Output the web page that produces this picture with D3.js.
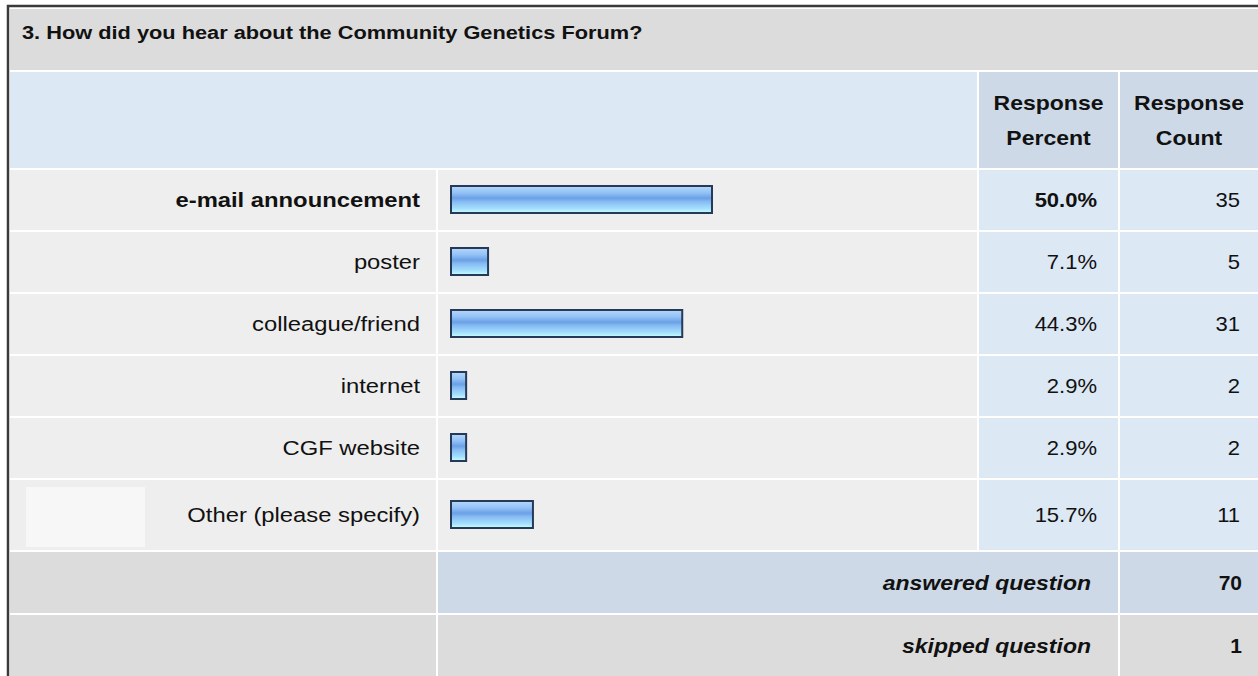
<!DOCTYPE html>
<html>
<head>
<meta charset="utf-8">
<script src="https://cdn.jsdelivr.net/npm/d3@7"></script>
<style>
  body { margin: 0; background: #ffffff; }
  svg text { font-family: "Liberation Sans", Arial, sans-serif; fill: #111; }
</style>
</head>
<body>
<script>
//survey question data
var question = "3. How did you hear about the Community Genetics Forum?";
var categories = ["e-mail announcement", "poster", "colleague/friend", "internet", "CGF website", "Other (please specify)"];
var percents = [50.0, 7.1, 44.3, 2.9, 2.9, 15.7];
var counts = [35, 5, 31, 2, 2, 11];
var headers = [["Response", "Percent"], ["Response", "Count"]];
var summaryLabels = ["answered question", "skipped question"];
var summaryValues = [70, 1];

window.onload = drawTable();

function drawTable(){
    var width = 1258,
        height = 676;

    var svg = d3.select("body")
        .append("svg")
        .attr("width", width)
        .attr("height", height);

    //column edges
    var colLabel = [10, 436],
        colBar = [438, 977],
        colPct = [979, 1118],
        colCnt = [1120, 1258];

    //row heights, the "Other" row is taller because of its comment box
    var rowH = categories.map(function(d){ return d.indexOf("Other") === 0 ? 70 : 60; });
    var rowTop = [];
    var y0 = 170;
    rowH.forEach(function(h){ rowTop.push(y0); y0 += h + 2; });

    //bar scale
    var x = d3.scaleLinear()
        .domain([0, 100])
        .range([0, 522]);

    var maxPct = d3.max(percents);

    //gradient for bars
    var defs = svg.append("defs");
    var grad = defs.append("linearGradient")
        .attr("id", "barGrad")
        .attr("x1", 0).attr("y1", 0).attr("x2", 0).attr("y2", 1);
    [["0%", "#b4d8fb"], ["25%", "#94c2f6"], ["45%", "#6aa0e6"], ["58%", "#86bbf3"], ["85%", "#a6e2fd"], ["100%", "#cbffff"]]
        .forEach(function(s){ grad.append("stop").attr("offset", s[0]).attr("stop-color", s[1]); });

    //helper for stretched text
    function label(g, str, xPos, yPos, opts){
        opts = opts || {};
        return g.append("text")
            .attr("transform", "translate(" + xPos + "," + yPos + ") scale(" + (opts.sx || 1.19) + ",1)")
            .attr("text-anchor", opts.anchor || "end")
            .style("font-size", (opts.size || 20) + "px")
            .style("font-weight", opts.bold ? "bold" : "normal")
            .style("font-style", opts.italic ? "italic" : "normal")
            .text(str);
    }

    function cell(g, x0, x1, yTop, h, fill){
        g.append("rect")
            .attr("x", x0).attr("y", yTop)
            .attr("width", x1 - x0).attr("height", h)
            .attr("fill", fill);
    }

    //outer frame
    svg.append("rect")
        .attr("x", 8).attr("y", 6)
        .attr("width", width).attr("height", height)
        .attr("fill", "#ffffff")
        .attr("stroke", "#3a3a3a")
        .attr("stroke-width", 2.5);

    //title row
    cell(svg, 10, width, 9, 61, "#dcdcdc");
    label(svg, question, 22, 39, {anchor: "start", bold: true, size: 18, sx: 1.21});

    //header row
    cell(svg, 10, colBar[1], 72, 96, "#dde8f5");
    cell(svg, colPct[0], colPct[1], 72, 96, "#cdd9e6");
    cell(svg, colCnt[0], colCnt[1], 72, 96, "#cdd9e6");
    headers.forEach(function(hd, i){
        var cx = i === 0 ? (colPct[0] + colPct[1]) / 2 : (colCnt[0] + colCnt[1]) / 2;
        label(svg, hd[0], cx, 110, {anchor: "middle", bold: true, sx: 1.15});
        label(svg, hd[1], cx, 145, {anchor: "middle", bold: true, sx: 1.15});
    });

    //data rows
    var rows = svg.selectAll(".row")
        .data(categories)
        .enter()
        .append("g")
        .attr("class", "row");

    rows.each(function(d, i){
        var g = d3.select(this);
        var top = rowTop[i], h = rowH[i], mid = top + h / 2;
        var isMax = percents[i] === maxPct;

        cell(g, colLabel[0], colLabel[1], top, h, "#eeeeee");
        cell(g, colBar[0], colBar[1], top, h, "#eeeeee");
        cell(g, colPct[0], colPct[1], top, h, "#dde8f5");
        cell(g, colCnt[0], colCnt[1], top, h, "#dde8f5");

        if (d.indexOf("Other") === 0) {
            cell(g, 26, 145, top + 7, 60, "#f7f7f7");
        }

        label(g, d, 420, mid + 7, {bold: isMax});

        g.append("rect")
            .attr("x", 451)
            .attr("y", mid - 14)
            .attr("width", x(percents[i]))
            .attr("height", 27)
            .attr("fill", "url(#barGrad)")
            .attr("stroke", "#263a58")
            .attr("stroke-width", 2);

        label(g, percents[i].toFixed(1) + "%", 1097, mid + 7, {bold: isMax, sx: 1.1});
        label(g, counts[i], 1240, mid + 7, {sx: 1.1});
    });

    //summary rows
    var sTop = rowTop[rowTop.length - 1] + rowH[rowH.length - 1] + 2;
    summaryLabels.forEach(function(s, i){
        var top = sTop + i * 63, h = 61, mid = top + h / 2;
        var fill = i === 0 ? "#cdd9e6" : "#dcdcdc";
        cell(svg, colLabel[0], colLabel[1], top, h, "#dcdcdc");
        cell(svg, colBar[0], colPct[1], top, h, fill);
        cell(svg, colCnt[0], colCnt[1], top, h, fill);
        label(svg, s, 1091, mid + 7, {bold: true, italic: true, sx: 1.15});
        label(svg, summaryValues[i], 1242, mid + 7, {bold: true, sx: 1.05});
    });
}
</script>
</body>
</html>
